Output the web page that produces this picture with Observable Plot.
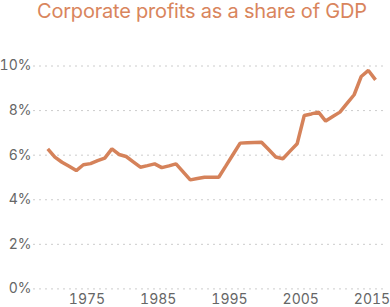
<!DOCTYPE html>
<html>
<head>
<meta charset="utf-8">
<script src="https://cdn.jsdelivr.net/npm/d3@7"></script>
<script src="https://cdn.jsdelivr.net/npm/@observablehq/plot@0.6"></script>
<style>
  html, body { margin: 0; padding: 0; background: #fff; }
  #wrap { width: 390px; height: 307px; overflow: hidden; position: relative; }
  #title { position: absolute; left: 37px; top: 0px; height: 30px; line-height: 22px; font-family: Inter, sans-serif; font-size: 20px; color: #d9855d; white-space: nowrap; letter-spacing: -0.2px; }
  #chart { position: absolute; left: 0; top: 30px; }
</style>
</head>
<body>
<div id="wrap">
  <div id="title">Corporate profits as a share of GDP</div>
  <div id="chart"></div>
</div>
<script>
const years = [1969,1970,1971,1972,1973,1974,1975,1976,1977,1978,1979,1980,1981,1982,1983,1984,1985,1986,1987,1988,1989,1990,1991,1992,1993,1994,1995,1996,1997,1998,1999,2000,2001,2002,2003,2004,2005,2006,2007,2008,2009,2010,2011,2012,2013,2014,2015];
const shares = [6.28,5.91,5.68,5.50,5.31,5.57,5.62,5.75,5.87,6.28,6.03,5.94,5.70,5.46,5.53,5.61,5.44,5.52,5.61,5.25,4.89,4.95,5.01,5.01,5.01,5.52,6.03,6.54,6.56,6.57,6.58,6.25,5.92,5.84,6.18,6.51,7.78,7.85,7.93,7.53,7.73,7.93,8.32,8.71,9.53,9.80,9.38];
const yTicks = [0,2,4,6,8,10];
const xTicks = [1975,1985,1995,2005,2015];

const data = years.map((y, i) => ({year: y, share: shares[i]}));

const chart = Plot.plot({
  width: 390,
  height: 277,
  marginLeft: 33,
  marginRight: 5,
  marginTop: 35.5,
  marginBottom: 18.6,
  style: {fontFamily: "Inter, sans-serif", fontSize: "14px", color: "#666", background: "#fff", overflow: "visible"},
  x: {domain: [1967, 2016.4], ticks: xTicks, tickFormat: d => String(d), label: null},
  y: {domain: [0, 10], ticks: yTicks, tickFormat: d => d + "%", label: null},
  marks: [
    Plot.gridY(yTicks, {stroke: "#cccccc", strokeOpacity: 1, strokeDasharray: "2,4", strokeWidth: 1}),
    Plot.axisY(yTicks, {tickSize: 0, tickPadding: 2, tickFormat: d => d + "%", fill: "#666", fontSize: 14}),
    Plot.axisX(xTicks, {tickSize: 0, tickPadding: 5, dx: -3.5, tickFormat: d => String(d), fill: "#666", fontSize: 14}),
    Plot.line(data, {x: "year", y: "share", stroke: "#d5825a", strokeWidth: 3.5, strokeLinejoin: "miter", strokeLinecap: "butt"})
  ]
});
document.getElementById("chart").appendChild(chart);
</script>
</body>
</html>
